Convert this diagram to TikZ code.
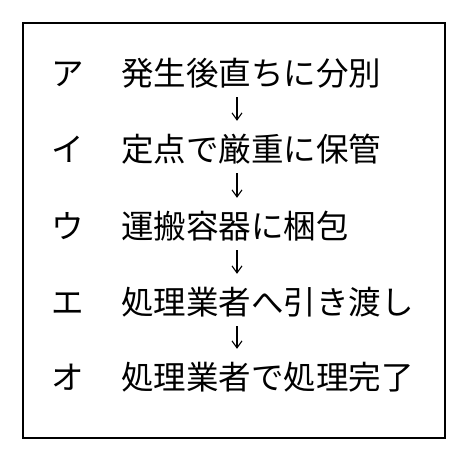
\documentclass[tikz,border=0pt]{standalone}
\usepackage{fontspec}
\setmainfont{Noto Sans CJK JP}
\usetikzlibrary{arrows.meta}
\begin{document}
\begin{tikzpicture}[x=1pt,y=-1pt,
  jfont/.style={font=\fontsize{32.5}{32.5}\selectfont},
  lbl/.style={jfont, anchor=center, inner sep=0pt, text height=28pt, text depth=4pt},
  txt/.style={jfont, anchor=west, inner sep=0pt, text height=28pt, text depth=4pt},
  flow/.style={-{Straight Barb[length=7pt,width=10pt]}, line width=1.1pt, shorten <=8pt, shorten >=12pt},
  frame/.style={draw, line width=1.6pt, inner sep=0pt, minimum width=422pt, minimum height=415pt}]
\useasboundingbox (0,0) rectangle (470,459);
\node[frame] (box) at (234,230.5) {};
\coordinate (ax) at (237,0);
\node[lbl] (l1) at (68,73) {ア};
\node[txt] (t1) at (121,73) {発生後直ちに分別};
\node[lbl] (l2) at (68,149) {イ};
\node[txt] (t2) at (121,149) {定点で厳重に保管};
\node[lbl] (l3) at (68,226) {ウ};
\node[txt] (t3) at (121,226) {運搬容器に梱包};
\node[lbl] (l4) at (68,302) {エ};
\node[txt] (t4) at (121,302) {処理業者へ引き渡し};
\node[lbl] (l5) at (68,377) {オ};
\node[txt] (t5) at (121,377) {処理業者で処理完了};
\draw[flow] (t1.south -| ax) -- (t2.north -| ax);
\draw[flow] (t2.south -| ax) -- (t3.north -| ax);
\draw[flow] (t3.south -| ax) -- (t4.north -| ax);
\draw[flow] (t4.south -| ax) -- (t5.north -| ax);
\end{tikzpicture}
\end{document}
